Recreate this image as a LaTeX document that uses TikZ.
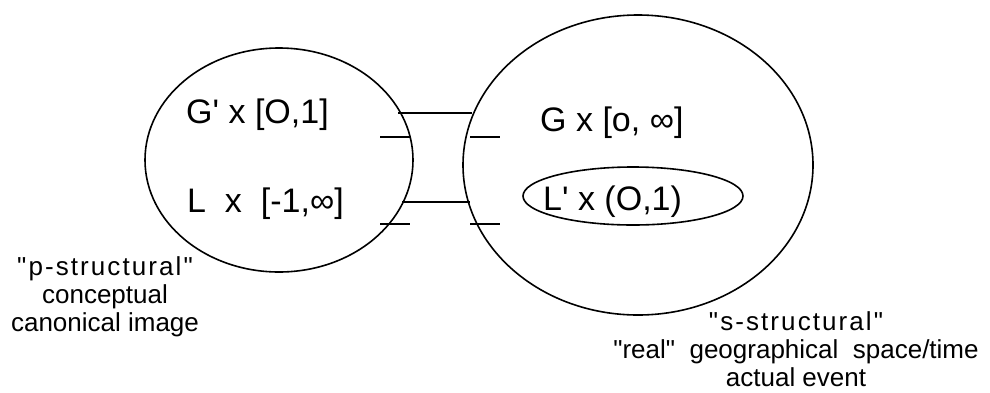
\documentclass[tikz,border=0pt]{standalone}
\usepackage{fontspec}
\newfontfamily\lib{Liberation Sans}
\newfontfamily\libsp[LetterSpace=8]{Liberation Sans}
\usetikzlibrary{shapes.geometric}
\begin{document}
\begin{tikzpicture}[x=1pt,y=-1pt,
  ring/.style={draw,ellipse,line width=1.6pt,inner sep=0pt},
  bar/.style={line width=1.6pt},
  big/.style={font=\lib\fontsize{34}{40}\selectfont,inner sep=0pt,anchor=base west},
  caption/.style={font=\lib\fontsize{26}{28}\selectfont,align=center,inner sep=0pt}]
\useasboundingbox (0,0) rectangle (990,392);
% ellipses
\node[ring,minimum width=268pt,minimum height=224pt] (left) at (279,160) {};
\node[ring,minimum width=350pt,minimum height=300pt] (right) at (638,165) {};
\node[ring,minimum width=220pt,minimum height=58pt] (inner) at (633,196) {};
% labels
\node[big] (gp) at (186,123) {G' x [O,1]};
\node[big] (lx) at (187,212) {L\ \ x\ \ [-1,∞]};
\node[big] (gx) at (540,131) {G x [o, ∞]};
\node[big] (lp) at (543,210) {L' x (O,1)};
% connectors
\coordinate (a1) at (398,113); \coordinate (a2) at (472,113);
\coordinate (b1) at (402,202); \coordinate (b2) at (470,202);
\coordinate (c1) at (380,137); \coordinate (c2) at (410,137);
\coordinate (d1) at (470,137); \coordinate (d2) at (500,137);
\coordinate (e1) at (380,224); \coordinate (e2) at (410,224);
\coordinate (f1) at (470,224); \coordinate (f2) at (500,224);
\draw[bar] (a1) -- (a2);
\draw[bar] (b1) -- (b2);
\draw[bar] (c1) -- (c2);
\draw[bar] (d1) -- (d2);
\draw[bar] (e1) -- (e2);
\draw[bar] (f1) -- (f2);
% captions
\node[caption] (pcap) at (105,297) {{\libsp"p-structural"}\\conceptual\\canonical image};
\node[caption] (scap) at (796,349) {{\libsp"s-structural"}\\"real"\ \ geographical\ \ space/time\\actual event};
\end{tikzpicture}
\end{document}
